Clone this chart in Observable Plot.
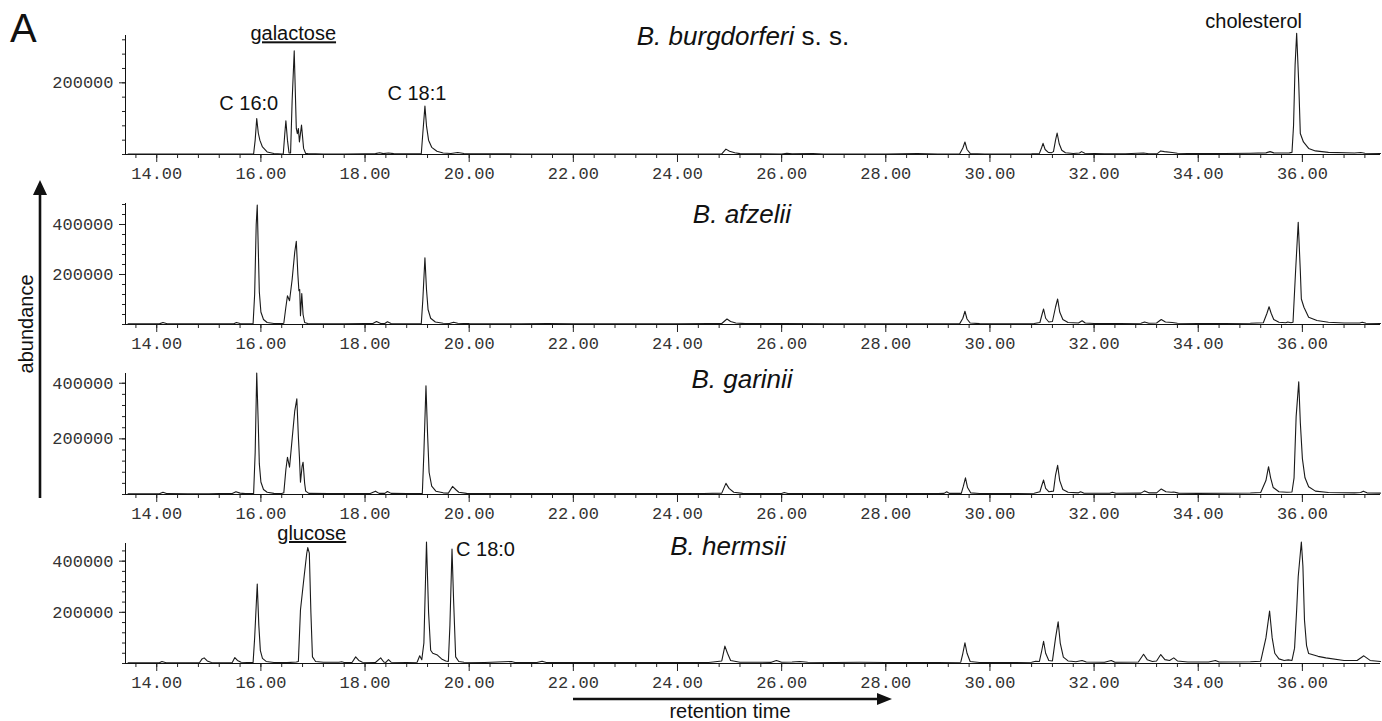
<!DOCTYPE html>
<html><head><meta charset="utf-8">
<script src="https://cdn.jsdelivr.net/npm/d3@7"></script>
<script src="https://cdn.jsdelivr.net/npm/@observablehq/plot@0.6"></script>
<style>
html,body{margin:0;padding:0;background:#fff;}
#chart{position:relative;width:1382px;height:721px;overflow:hidden;font-family:"Liberation Sans",Arial,sans-serif;color:#111;}
.panel{position:absolute;left:0;}
.title{position:absolute;width:400px;text-align:center;font-size:26px;line-height:26px;white-space:nowrap;}
#letter{position:absolute;left:10px;top:8px;font-size:40px;line-height:40px;}
#overlay{position:absolute;left:0;top:0;}
</style></head><body><div id="chart"></div>
<script>
// ---- data: [retention time (min), abundance] ----
const burgdorferi = [
 [13.45,1500],[14.0,1500],[15.0,1200],[15.5,1500],[15.86,1500],[15.89,40000],[15.92,100500],[15.95,60000],[15.98,40000],[16.03,21000],[16.12,7000],[16.25,3000],[16.4,1500],
 [16.43,2000],[16.46,60000],[16.48,94000],[16.51,40000],[16.54,4500],[16.57,4000],[16.6,150000],[16.64,289000],[16.68,72600],[16.70,58000],[16.72,72600],[16.74,35000],[16.78,82000],[16.82,17000],[16.86,3000],
 [16.9,2500],[17.2,1500],[17.6,1500],[18.0,2000],[18.2,2500],[18.28,5000],[18.35,2500],[18.45,4000],[18.55,2500],[18.8,1800],[19.08,2000],[19.11,60000],[19.15,135000],[19.18,80000],[19.22,40000],[19.28,20000],[19.38,9000],[19.5,4000],[19.65,3000],[19.78,5500],[19.9,3000],
 [20.2,2000],[21.0,1500],[22.0,1500],[23.0,1500],[24.0,1500],[24.85,1800],[24.93,15000],[25.0,9000],[25.1,5000],[25.2,2500],[25.5,1800],[26.0,1500],[26.1,3500],[26.2,1800],[26.6,3000],[26.8,1500],[28.0,1500],[28.6,2500],[29.0,1500],
 [29.42,1800],[29.48,18000],[29.52,35000],[29.56,14000],[29.62,3000],[29.9,1500],[30.6,1500],[30.8,2000],[30.95,3000],[30.99,18000],[31.02,31000],[31.06,14000],[31.12,6000],[31.18,5000],[31.22,8000],[31.26,40000],[31.29,60000],[31.33,30000],[31.38,12000],[31.45,5000],
 [31.6,3000],[31.72,4000],[31.76,8000],[31.82,3500],[32.2,2000],[32.6,2000],[32.95,4000],[33.05,2200],[33.22,3000],[33.28,10000],[33.35,8000],[33.5,5500],[33.6,3500],[34.0,2500],[34.5,2800],[35.0,3500],[35.3,4500],[35.38,8000],[35.45,4500],[35.6,4000],[35.75,4500],
 [35.8,6000],[35.83,80000],[35.86,250000],[35.89,338000],[35.93,198000],[35.96,58600],[36.02,35000],[36.12,17000],[36.25,10000],[36.5,6000],[37.0,4000],[37.12,5500],[37.2,3500],[37.5,3000]
];
const afzelii = [
 [13.45,2500],[14.05,2500],[14.12,8000],[14.2,3000],[14.6,2500],[15.0,2500],[15.2,2500],[15.48,3000],[15.53,8000],[15.6,4000],[15.7,3000],[15.85,3000],[15.88,120000],[15.91,400000],[15.93,478000],[15.95,300000],[15.97,130000],[16.0,50000],[16.05,20000],[16.12,8000],[16.25,4000],[16.4,3500],
 [16.44,5000],[16.48,70000],[16.51,115000],[16.55,95000],[16.6,180000],[16.65,290000],[16.68,333000],[16.71,200000],[16.73,135000],[16.745,140000],[16.76,35000],[16.785,124000],[16.81,40000],[16.84,8000],[16.9,4000],
 [17.2,3000],[17.6,3000],[18.0,3500],[18.15,4000],[18.22,12000],[18.3,4000],[18.38,4000],[18.43,11000],[18.5,4000],[18.8,3000],[19.08,3500],[19.11,100000],[19.15,267000],[19.18,140000],[19.21,60000],[19.26,25000],[19.35,10000],[19.5,5000],[19.62,4000],[19.7,9000],[19.78,5000],
 [20.0,3500],[20.5,3000],[21.0,3000],[21.5,3500],[22.0,3000],[23.0,3000],[24.0,3000],[24.6,3500],[24.85,4000],[24.95,22000],[25.02,12000],[25.12,6000],[25.3,3500],[26.0,3500],[27.0,3000],[28.0,3000],[29.0,3000],
 [29.42,3500],[29.48,25000],[29.52,53000],[29.56,22000],[29.62,6000],[29.8,3500],[30.5,3000],[30.85,4000],[30.96,8000],[31.0,40000],[31.03,62000],[31.07,25000],[31.13,10000],[31.2,12000],[31.26,70000],[31.3,102000],[31.34,50000],[31.4,20000],[31.5,8000],
 [31.7,6000],[31.77,15000],[31.83,6000],[32.0,4000],[32.5,4000],[32.9,5000],[32.97,10000],[33.05,5000],[33.2,6000],[33.29,20000],[33.37,10000],[33.5,8000],[33.6,5000],[34.0,4000],[34.5,4000],[35.0,5000],[35.25,7000],[35.32,45000],[35.36,71000],[35.4,45000],[35.45,20000],[35.55,9000],
 [35.68,7000],[35.72,10000],[35.78,7000],[35.82,9000],[35.87,216000],[35.92,409000],[35.96,216000],[35.98,102000],[36.03,69000],[36.12,29000],[36.28,16000],[36.5,9000],[36.8,6000],[37.1,6000],[37.15,9000],[37.22,5000],[37.5,4000]
];
const garinii = [
 [13.45,2500],[14.05,2500],[14.12,8000],[14.2,3000],[14.6,2500],[15.0,2500],[15.2,3000],[15.45,3500],[15.52,10000],[15.6,5000],[15.7,3000],[15.86,3000],[15.89,150000],[15.92,437000],[15.95,250000],[15.97,110000],[16.0,45000],[16.05,18000],[16.12,8000],[16.25,4000],[16.4,3500],
 [16.44,6000],[16.48,90000],[16.51,134000],[16.55,98000],[16.6,200000],[16.65,300000],[16.69,344000],[16.72,206000],[16.74,134000],[16.76,44000],[16.79,100000],[16.81,116000],[16.84,40000],[16.86,12000],[16.92,4000],
 [17.3,3000],[17.8,3000],[18.1,3500],[18.2,12000],[18.27,4000],[18.38,4000],[18.43,11000],[18.5,4000],[18.8,3000],[19.1,4000],[19.13,150000],[19.17,391000],[19.2,220000],[19.23,80000],[19.28,30000],[19.36,12000],[19.5,6000],[19.6,5000],[19.68,29000],[19.74,18000],[19.8,8000],[19.95,4000],
 [20.5,3000],[21.0,3500],[22.0,3000],[23.0,3000],[24.0,3000],[24.5,3500],[24.85,5000],[24.93,40000],[24.99,22000],[25.08,8000],[25.25,4000],[26.0,3500],[26.05,7000],[26.12,3500],[27.0,3000],[28.0,3500],[29.0,3000],[29.12,4000],[29.17,10000],[29.22,4000],
 [29.45,4000],[29.49,30000],[29.53,60000],[29.57,25000],[29.63,6000],[29.8,3500],[30.5,3500],[30.85,4500],[30.96,10000],[31.0,35000],[31.03,52000],[31.07,22000],[31.13,10000],[31.22,12000],[31.26,70000],[31.3,105000],[31.34,50000],[31.4,18000],[31.5,8000],
 [31.7,6000],[31.74,10000],[31.8,5000],[32.3,4500],[32.35,8000],[32.42,4500],[32.9,5000],[32.97,13000],[33.05,6000],[33.2,6000],[33.29,20000],[33.38,10000],[33.48,8000],[33.53,9000],[33.62,5000],[34.0,4000],[34.5,4500],[35.0,5500],[35.2,7000],
 [35.3,50000],[35.35,100000],[35.39,60000],[35.44,25000],[35.55,10000],[35.7,8000],[35.8,9000],[35.84,60000],[35.88,280000],[35.93,405000],[35.96,260000],[36.0,129000],[36.05,60000],[36.12,28000],[36.25,12000],[36.5,7000],[37.0,6000],[37.12,7000],[37.17,12000],[37.24,6000],[37.5,5000]
];
const hermsii = [
 [13.45,3000],[14.05,3000],[14.1,8000],[14.18,3000],[14.5,2500],[14.82,3000],[14.87,18000],[14.91,22000],[14.97,10000],[15.05,4000],[15.3,3000],[15.45,4000],[15.5,23000],[15.55,12000],[15.62,5000],[15.85,3500],[15.88,100000],[15.93,311000],[15.96,150000],[15.99,50000],[16.03,20000],[16.1,8000],[16.25,4000],[16.5,3500],
 [16.68,6000],[16.72,8000],[16.76,209000],[16.83,340000],[16.88,430000],[16.9,453000],[16.93,431000],[16.96,200000],[16.99,26000],[17.05,8000],[17.2,5000],[17.5,5000],[17.55,7000],[17.6,4000],[17.75,4000],[17.82,26000],[17.88,12000],[17.95,5000],
 [18.2,4000],[18.3,22000],[18.36,6000],[18.4,4000],[18.45,15000],[18.5,5000],[18.8,4000],[19.0,5000],[19.05,30000],[19.09,15000],[19.13,80000],[19.18,475000],[19.22,200000],[19.26,52000],[19.3,40000],[19.39,33000],[19.47,18000],[19.55,10000],[19.6,8000],
 [19.63,150000],[19.67,447000],[19.7,250000],[19.74,26000],[19.8,8000],[19.9,5000],[20.3,4000],[20.81,8000],[20.88,4000],[21.3,4000],[21.4,9000],[21.48,4000],[22.0,3500],[23.0,3500],[24.0,4000],[24.6,4000],[24.85,10000],[24.91,68000],[24.96,40000],[25.02,12000],[25.2,5000],
 [25.8,4500],[25.9,12000],[26.0,5000],[26.2,6000],[26.35,8000],[26.5,5000],[27.0,4000],[27.5,5000],[28.0,4000],[29.0,4000],[29.44,5000],[29.48,40000],[29.52,81000],[29.56,40000],[29.62,8000],[29.8,4000],[30.5,4000],[30.8,5000],[30.88,9000],[30.95,8000],
 [30.99,45000],[31.03,87000],[31.07,40000],[31.13,12000],[31.2,10000],[31.26,100000],[31.31,163000],[31.35,80000],[31.41,25000],[31.5,10000],[31.56,9000],[31.65,7000],[31.77,12000],[31.85,6000],[32.2,5000],[32.33,12000],[32.4,5000],[32.85,6000],[32.95,36000],[33.02,15000],
 [33.12,8000],[33.2,10000],[33.28,35000],[33.36,15000],[33.45,12000],[33.53,22000],[33.6,10000],[33.8,6000],[34.2,6000],[34.33,12000],[34.4,6000],[35.0,7000],[35.2,9000],[35.3,100000],[35.37,205000],[35.42,100000],[35.47,40000],[35.55,18000],[35.65,12000],[35.73,14000],
 [35.8,12000],[35.85,60000],[35.89,209000],[35.92,340000],[35.98,475000],[36.01,380000],[36.04,170000],[36.08,70000],[36.12,39000],[36.3,28000],[36.45,22000],[36.8,12000],[37.05,12000],[37.18,30000],[37.3,12000],[37.5,8000]
];
const series = [burgdorferi, afzelii, garinii, hermsii];
const strainNames = ["B. burgdorferi", "B. afzelii", "B. garinii", "B. hermsii"];
const strainSuffix = [" s. s.", "", "", ""];
const xMajorTicks = [14, 16, 18, 20, 22, 24, 26, 28, 30, 32, 34, 36];
const xTickLabels = ["14.00","16.00","18.00","20.00","22.00","24.00","26.00","28.00","30.00","32.00","34.00","36.00"];
const yMajorTicks = [[200000], [200000, 400000], [200000, 400000], [200000, 400000]];
const yMaxima = [332000, 484000, 435000, 469000];
const annotations = [
 {panel: 0, label: "C 16:0", peak: 15.92},
 {panel: 0, label: "galactose", peak: 16.64},
 {panel: 0, label: "C 18:1", peak: 19.15},
 {panel: 0, label: "cholesterol", peak: 35.89},
 {panel: 3, label: "glucose", peak: 16.90},
 {panel: 3, label: "C 18:0", peak: 19.67}
];
const underlined = ["galactose", "glucose"];

// ---- layout / style ----
const frames = [{top: 35, base: 154, tc: 743, tb: 45}, {top: 203, base: 324, tc: 742, tb: 223}, {top: 373, base: 494, tc: 742, tb: 388}, {top: 543, base: 663, tc: 728, tb: 555}];
const annStyle = {
 "C 16:0": {dx: -8, dy: -15, anchor: "middle"},
 "galactose": {dx: -1, dy: -17, anchor: "middle"},
 "C 18:1": {dx: -8, dy: -13, anchor: "middle"},
 "cholesterol": {dx: -43, dy: -12, anchor: "middle"},
 "glucose": {dx: 4, dy: -14, anchor: "middle"},
 "C 18:0": {dx: 4, dy: 0, anchor: "start"}
};
const X0 = 13.4, X1 = 37.5;
const mt = 30, mb = 30;
const chart = document.getElementById("chart");
const xMinor = d3.range(34, 94).map(i => +(i * 0.4).toFixed(1)).filter(v => v >= 13.6 && v <= 37.4);
const labelOf = new Map(xMajorTicks.map((t, i) => [t, xTickLabels[i]]));

series.forEach((data, i) => {
  const f = frames[i];
  const yMax = yMaxima[i];
  const yMinor = d3.range(0, yMax, 40000);
  const anns = annotations.filter(a => a.panel === i).map(a => {
    const pt = data.reduce((b, d) => Math.abs(d[0] - a.peak) < Math.abs(b[0] - a.peak) ? d : b);
    return {label: a.label, x: pt[0], y: pt[1]};
  });
  const marks = [
    Plot.axisX({ticks: xMinor, tickSize: 4, tickFormat: () => "", label: null, stroke: "#222"}),
    Plot.axisX({ticks: xMajorTicks, tickSize: 8, tickPadding: 4, tickFormat: d => labelOf.get(d), label: null, fontSize: 17, fill: "#333", stroke: "#222"}),
    Plot.axisY({ticks: yMinor, tickSize: 3, tickFormat: () => "", label: null, stroke: "#222"}),
    Plot.axisY({ticks: yMajorTicks[i], tickSize: 6, tickPadding: 6, tickFormat: d => String(d), label: null, fontSize: 17, fill: "#333", stroke: "#222"}),
    Plot.ruleX([X0], {stroke: "#111"}),
    Plot.ruleY([0], {stroke: "#111"}),
    Plot.line(data, {x: d => d[0], y: d => d[1], stroke: "#1a1a1a", strokeWidth: 1.1, curve: "linear"})
  ];
  for (const a of anns) {
    const s = annStyle[a.label];
    marks.push(Plot.text([a], {x: "x", y: "y", text: "label", dx: s.dx, dy: s.dy, textAnchor: s.anchor,
      fontFamily: "Liberation Sans, Arial, sans-serif", fontSize: 20, fill: "#111"}));
  }
  const svg = Plot.plot({
    width: 1382,
    height: mt + (f.base - f.top) + mb,
    marginLeft: 125, marginRight: 2, marginTop: mt, marginBottom: mb,
    x: {domain: [X0, X1]},
    y: {domain: [0, yMax]},
    style: {background: "transparent", overflow: "visible", fontFamily: "Liberation Mono, monospace", fontSize: "17px", color: "#222"},
    marks
  });
  d3.select(svg).selectAll("text").filter(function () { return underlined.includes(this.textContent); })
    .attr("text-decoration", "underline");
  svg.classList.add("panel");
  svg.style.position = "absolute";
  svg.style.top = (f.top - mt) + "px";
  svg.style.left = "0px";
  chart.appendChild(svg);

  const t = document.createElement("div");
  t.className = "title";
  t.style.left = (f.tc - 200) + "px";
  t.style.top = (f.tb - 22) + "px";
  const it = document.createElement("i");
  it.textContent = strainNames[i];
  t.appendChild(it);
  if (strainSuffix[i]) t.appendChild(document.createTextNode(strainSuffix[i]));
  chart.appendChild(t);
});

const A = document.createElement("div");
A.id = "letter"; A.textContent = "A";
chart.appendChild(A);

const ns = "http://www.w3.org/2000/svg";
const ov = d3.create("svg").attr("id", "overlay").attr("width", 1382).attr("height", 721)
  .style("position", "absolute").style("left", "0px").style("top", "0px");
ov.append("line").attr("x1", 40).attr("x2", 40).attr("y1", 498).attr("y2", 192).attr("stroke", "#111").attr("stroke-width", 2.6);
ov.append("path").attr("d", "M33,195L47,195L40,180Z").attr("fill", "#111");
ov.append("text").attr("transform", "translate(33,324) rotate(-90)").attr("text-anchor", "middle")
  .attr("font-family", "Liberation Sans, Arial, sans-serif").attr("font-size", 20).attr("fill", "#111").text("abundance");
ov.append("line").attr("x1", 573).attr("x2", 880).attr("y1", 699).attr("y2", 699).attr("stroke", "#111").attr("stroke-width", 2.6);
ov.append("path").attr("d", "M877,693L877,705L892,699Z").attr("fill", "#111");
ov.append("text").attr("x", 730).attr("y", 718).attr("text-anchor", "middle")
  .attr("font-family", "Liberation Sans, Arial, sans-serif").attr("font-size", 20).attr("fill", "#111").text("retention time");
chart.appendChild(ov.node());
</script></body></html>
